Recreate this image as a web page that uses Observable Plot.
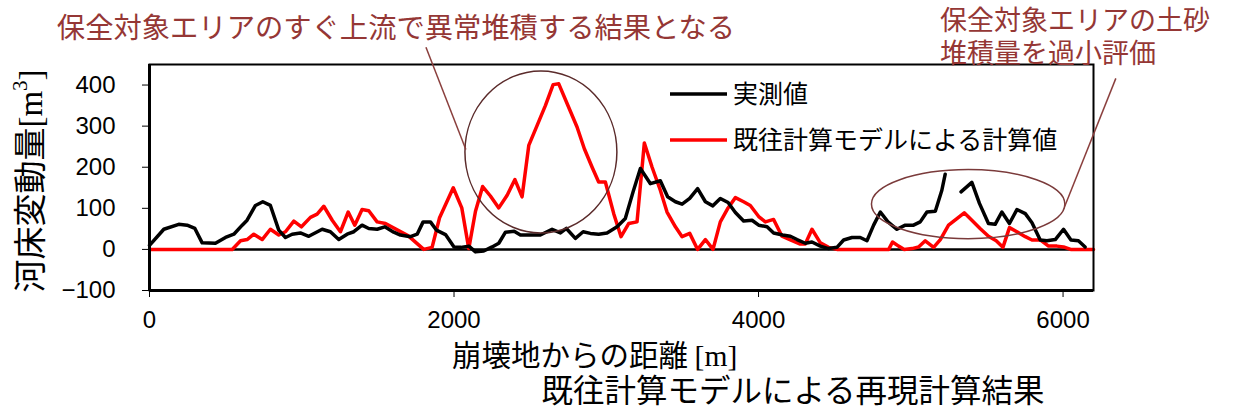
<!DOCTYPE html>
<html><head><meta charset="utf-8">
<script src="https://cdn.jsdelivr.net/npm/d3@7"></script>
<script src="https://cdn.jsdelivr.net/npm/@observablehq/plot@0.6"></script>
<style>
html,body{margin:0;padding:0;background:#fff;}
</style>
</head><body>
<div id="chart"></div>
<script>
// 実測値 (observed)  distance [m], change [m3]; null = gap
const obsX = [0,94,192,247,298,346,433,499,554,609,641,696,744,794,849,893,937,991,1046,1134,1188,1243,1298,1342,1396,1440,1495,1545,1604,1648,1714,1758,1797,1845,1884,1944,2000,2045,2097,2141,2195,2250,2294,2338,2395,2436,2502,2567,2644,2699,2738,2797,2848,2896,2950,3005,3071,3125,3176,3224,3290,3355,3403,3454,3498,3548,3600,3651,3700,3749,3800,3848,3902,3957,4001,4056,4099,4158,4209,4253,4307,4351,4406,4460,4515,4559,4614,4668,4712,4756,4800,4850,4909,4964,5018,5062,5106,5161,5204,5226,5254,5330,5401,5451,5510,5554,5598,5648,5697,5752,5796,5850,5894,5949,6003,6052,6101,6145,6200];
const obsY = [10,49,61,59,51,16,15,29,37,59,71,107,116,107,47,29,37,40,32,49,43,24,37,43,59,51,49,55,42,35,31,37,67,67,47,36,6,5,8,-6,-4,6,15,42,44,35,35,35,49,40,51,27,43,39,37,40,55,75,140,197,160,167,128,116,110,124,148,116,106,124,114,90,69,71,59,55,40,35,32,24,15,18,8,2,5,23,29,29,21,59,91,67,49,59,59,67,91,93,144,183,null,140,163,112,63,61,91,63,97,87,65,23,21,24,49,23,21,6];
// 既往計算モデルによる計算値 (previous model)
const calcX = [0,543,598,641,685,740,794,849,893,948,998,1057,1101,1145,1200,1254,1305,1348,1396,1440,1495,1550,1700,1801,1856,1905,1995,2051,2097,2141,2188,2239,2294,2349,2400,2447,2491,2546,2600,2651,2688,2753,2808,2856,2907,2950,2994,3049,3097,3147,3202,3250,3301,3355,3399,3454,3498,3548,3600,3651,3701,3749,3800,3848,3902,3946,4001,4045,4099,4154,4209,4274,4307,4351,4406,4460,4515,4855,4880,4920,4957,5008,5051,5095,5150,5194,5248,5303,5351,5401,5455,5510,5561,5605,5648,5697,5752,5796,5850,5905,5960,6003,6050,6200];
const calcY = [0,0,21,24,37,24,49,35,43,69,55,78,86,105,71,43,91,59,97,94,67,63,33,0,5,77,150,101,2,93,153,130,101,132,170,128,253,302,350,401,403,346,298,245,200,164,164,87,31,63,67,259,200,144,91,55,31,39,0,24,0,67,101,126,116,107,80,67,73,32,23,13,13,49,16,5,0,0,18,8,0,2,6,21,5,24,59,75,89,71,51,32,21,5,53,43,31,23,23,8,8,6,0,0];

const xTicks = [0,2000,4000,6000];
const yTicks = [-100,0,100,200,300,400];
const seriesNames = ["実測値","既往計算モデルによる計算値"];
const titleText = "保全対象エリアのすぐ上流で異常堆積する結果となる";
const noteLines = ["保全対象エリアの土砂","堆積量を過小評価"];
const xLabel = "崩壊地からの距離";
const yLabel = "河床変動量";
const caption = "既往計算モデルによる再現計算結果";

const obs = obsX.map((x,i)=>({x, y: obsY[i]}));
const calc = calcX.map((x,i)=>({x, y: calcY[i]}));

const JP = "'Noto Sans CJK JP', 'Noto Sans', sans-serif";
const NUM = "'Liberation Sans', Arial, sans-serif";
const SERIF = "'Liberation Serif', 'DejaVu Serif', serif";
const NOTE = "#953735";

const chart = Plot.plot({
  width: 1233, height: 412,
  marginLeft: 149, marginRight: 140, marginTop: 64, marginBottom: 122,
  style: {fontFamily: NUM, fontSize: "24px", background: "#fff", color: "#000"},
  x: {domain: [0, 6200]},
  y: {domain: [-100, 450]},
  marks: [
    Plot.ruleY([0], {stroke: "#000", strokeWidth: 2.5}),
    Plot.line(calc, {x: "x", y: "y", stroke: "#ff0000", strokeWidth: 3.5, strokeLinejoin: "round"}),
    Plot.line(obs, {x: "x", y: "y", stroke: "#000", strokeWidth: 3.5, strokeLinejoin: "round"}),
    Plot.frame({stroke: "#000", strokeWidth: 2}),
    Plot.ruleX([0], {stroke: "#000", strokeWidth: 3}),
    Plot.ruleY([-100], {stroke: "#000", strokeWidth: 3}),
    Plot.axisY({ticks: yTicks, tickSize: 7, tickPadding: 27, label: null, fontSize: 24, tickFormat: d3.format("")}),
    Plot.axisX({ticks: xTicks, tickSize: 7, tickPadding: 13, label: null, fontSize: 24, tickFormat: d3.format("")})
  ]
});
document.getElementById("chart").appendChild(chart);

const svg = d3.select(chart);
const sx = chart.scale("x"), sy = chart.scale("y");
const X = v => sx.apply(v), Y = v => sy.apply(v);

// annotation shapes in data units
const circ = {cx: 2574, cy: 236, rx: 499, ry: 197};
const ell = {cx: 5380, cy: 109, rx: 635, ry: 84};
const g = svg.append("g");
g.append("ellipse").attr("cx", X(circ.cx)).attr("cy", Y(circ.cy))
  .attr("rx", X(circ.cx + circ.rx) - X(circ.cx)).attr("ry", Y(circ.cy) - Y(circ.cy + circ.ry))
  .attr("fill", "none").attr("stroke", "#5a2a2a").attr("stroke-width", 1.5);
g.append("ellipse").attr("cx", X(ell.cx)).attr("cy", Y(ell.cy))
  .attr("rx", X(ell.cx + ell.rx) - X(ell.cx)).attr("ry", Y(ell.cy) - Y(ell.cy + ell.ry))
  .attr("fill", "none").attr("stroke", "#7a3a3a").attr("stroke-width", 1.5);
g.append("line").attr("x1", X(1819)).attr("y1", Y(491)).attr("x2", X(2081)).attr("y2", Y(242))
  .attr("stroke", "#8a3f3d").attr("stroke-width", 1.5);
g.append("line").attr("x1", X(6014)).attr("y1", Y(103)).attr("x2", X(6350)).attr("y2", Y(415))
  .attr("stroke", "#8a3f3d").attr("stroke-width", 1.5);

// legend
const leg = svg.append("g").attr("font-family", JP).attr("font-size", 25).attr("text-anchor", "start");
[["#000", 94], ["#ff0000", 140]].forEach(([c, yy], i) => {
  leg.append("line").attr("x1", 670).attr("x2", 727).attr("y1", yy).attr("y2", yy)
    .attr("stroke", c).attr("stroke-width", 3.5);
  leg.append("text").attr("x", 733).attr("y", yy).attr("dy", "0.36em").attr("fill", "#000").text(seriesNames[i]);
});

// title annotations
svg.append("text").attr("x", 396).attr("y", 28).attr("dy", "0.36em").attr("text-anchor", "middle")
  .attr("font-family", JP).attr("font-size", 28.3).attr("fill", NOTE).text(titleText);
noteLines.forEach((t, i) => {
  svg.append("text").attr("x", 940).attr("y", 20 + i * 33).attr("dy", "0.36em").attr("text-anchor", "start")
    .attr("font-family", JP).attr("font-size", 27).attr("fill", NOTE).text(t);
});

// x label
const xl = svg.append("text").attr("x", 452).attr("y", 355).attr("dy", "0.36em").attr("text-anchor", "start")
  .attr("font-family", JP).attr("font-size", 29.5).attr("fill", "#000");
xl.append("tspan").text(xLabel + " ");
xl.append("tspan").attr("font-family", SERIF).text("[m]");

// caption
svg.append("text").attr("x", 793).attr("y", 391).attr("dy", "0.36em").attr("text-anchor", "middle")
  .attr("font-family", JP).attr("font-size", 31.5).attr("fill", "#000").text(caption);

// y label
const yl = svg.append("text").attr("transform", "translate(30,181) rotate(-90)")
  .attr("text-anchor", "middle").attr("dy", "0.36em")
  .attr("font-family", JP).attr("font-size", 33).attr("fill", "#000");
yl.append("tspan").text(yLabel);
yl.append("tspan").attr("font-family", SERIF).text("[m");
yl.append("tspan").attr("font-family", SERIF).attr("font-size", 21).attr("dy", "-0.7em").text("3");
yl.append("tspan").attr("font-family", SERIF).attr("dy", "0.45em").text("]");
</script>
</body></html>
